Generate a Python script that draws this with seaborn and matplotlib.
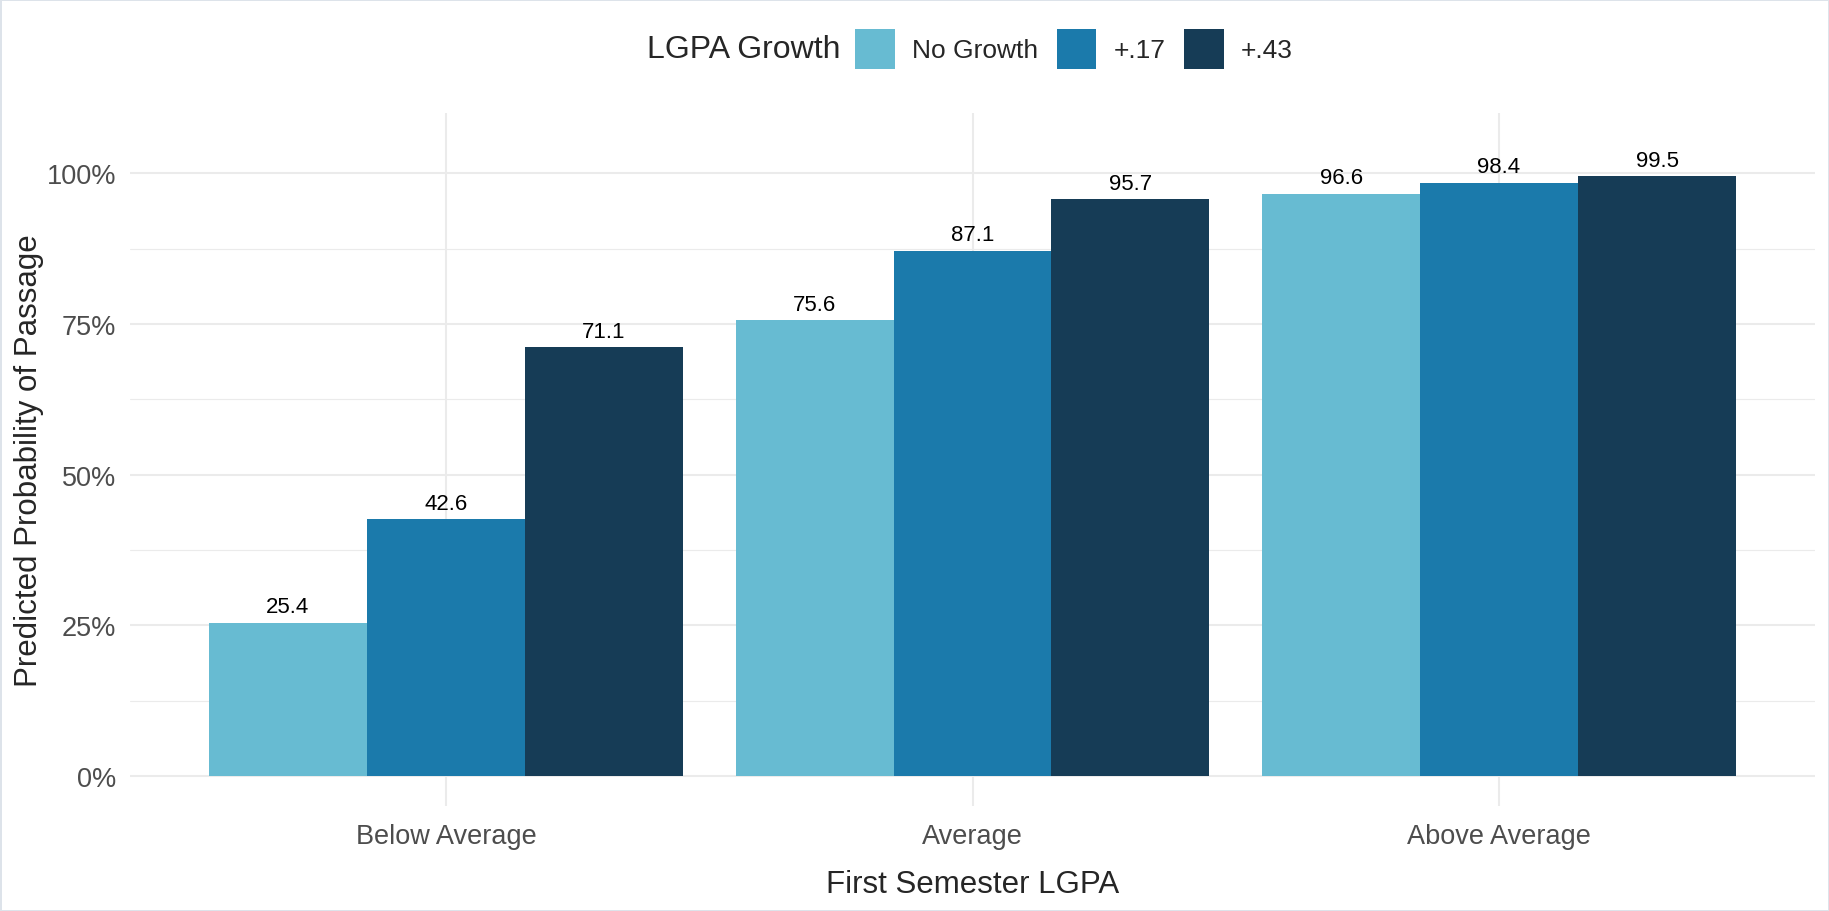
import pandas as pd
import matplotlib
matplotlib.use("Agg")
import matplotlib.pyplot as plt
from matplotlib.patches import Patch
from matplotlib.ticker import FuncFormatter, MultipleLocator
import seaborn as sns

# data
levels = ["Below Average", "Average", "Above Average"]
growth = ["No Growth", "+.17", "+.43"]
no_growth = [25.4, 75.6, 96.6]
plus_17 = [42.6, 87.1, 98.4]
plus_43 = [71.1, 95.7, 99.5]
colors = ["#67bbd2", "#1b7aab", "#163c56"]

rows = []
for g, vals in zip(growth, [no_growth, plus_17, plus_43]):
    for lev, v in zip(levels, vals):
        rows.append({"level": lev, "growth": g, "prob": v / 100})
df = pd.DataFrame(rows)

sns.set_style("white")
plt.rcParams["font.family"] = ["Liberation Sans", "DejaVu Sans"]

fig = plt.figure(figsize=(18.29, 9.12), dpi=100)
fig.patch.set_edgecolor("#dde3ea")
fig.patch.set_linewidth(2)
ax = fig.add_axes([130 / 1829, 1 - 807 / 912, (1815 - 130) / 1829, (807 - 114) / 912])

sns.barplot(data=df, x="level", y="prob", hue="growth", order=levels,
            hue_order=growth, palette=colors, saturation=1, width=0.9,
            errorbar=None, ax=ax, zorder=3, linewidth=0, legend=False)

for cont, vals in zip(ax.containers, [no_growth, plus_17, plus_43]):
    ax.bar_label(cont, labels=[f"{v:.1f}" for v in vals], padding=4,
                 fontsize=16, color="black")

ax.set_xlim(-0.6, 2.6)
ax.set_ylim(-0.05, 1.10)
ax.yaxis.set_major_locator(MultipleLocator(0.25))
ax.yaxis.set_minor_locator(MultipleLocator(0.125))
ax.yaxis.set_major_formatter(FuncFormatter(lambda v, p: f"{v * 100:.0f}%"))
ax.grid(which="major", color="#ebebeb", linewidth=1.5, zorder=0)
ax.grid(which="minor", axis="y", color="#ebebeb", linewidth=0.8, zorder=0)
ax.set_axisbelow(True)
for s in ax.spines.values():
    s.set_visible(False)
ax.tick_params(axis="both", which="both", length=0, labelsize=19.5,
               labelcolor="#4d4d4d")
ax.tick_params(axis="y", pad=10)
ax.tick_params(axis="x", pad=12)

ax.set_xlabel("First Semester LGPA", fontsize=22.5, labelpad=15)
ax.set_ylabel("Predicted Probability of Passage", fontsize=22.5, labelpad=2)

handles = [Patch(facecolor=c, edgecolor="none") for c in colors]
fig.legend(handles, growth, loc="center", bbox_to_anchor=(1074 / 1829, 1 - 50 / 912),
           ncol=3, frameon=False, fontsize=19, handlelength=1.5, handleheight=1.95,
           handletextpad=0.65, columnspacing=0.7, borderpad=0)
fig.text(647 / 1829, 1 - 50 / 912, "LGPA Growth", fontsize=23, ha="left", va="center")

plt.savefig("out.png", dpi=100)
